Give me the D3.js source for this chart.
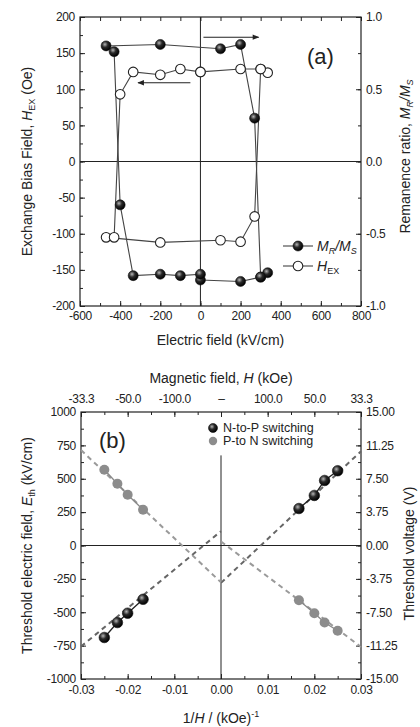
<!DOCTYPE html>
<html><head><meta charset="utf-8">
<script src="https://cdn.jsdelivr.net/npm/d3@7"></script>
<style>
body{margin:0;background:#fff}
svg{display:block}
text{font-family:"Liberation Sans",Arial,sans-serif;fill:#222}
</style>
</head><body><svg id="c" width="420" height="727"></svg>
<script>
// ---------- Panel (a) data ----------
const aField = [0, 200, 300, 335, 300, 270, 200, 100, -200, -470, -430, -400, -335, -200, -100, 0];
const aMrMs  = [-0.82, -0.83, -0.80, -0.77, -0.80, 0.30, 0.81, 0.78, 0.81, 0.80, 0.76, -0.30, -0.79, -0.78, -0.79, -0.78];
const aHex   = [124, 128, 128, 123, 128, -76, -111, -109, -112, -105, -105, 93, 124, 120, 128, 124];
const aXTicks = [-600, -400, -200, 0, 200, 400, 600, 800];
const aYTicks = [-200, -150, -100, -50, 0, 50, 100, 150, 200];
const aRTicks = [-1, -0.5, 0, 0.5, 1];
const aArrows = [{x1: 15, x2: 290, y: 172}, {x1: -50, x2: -311, y: 109}];

// ---------- Panel (b) data ----------
const bNPx = [-0.025, -0.0222, -0.02, -0.0167, 0.0167, 0.02, 0.0222, 0.025];
const bNPy = [-689, -577, -507, -403, 277, 375, 487, 560];
const bPNx = [-0.025, -0.0222, -0.02, -0.0167, 0.0167, 0.02, 0.0222, 0.025];
const bPNy = [567, 463, 380, 268, -410, -507, -577, -639];
const bFitNP = [[[-0.03, -757], [0, 107]], [[0, -280], [0.03, 706]]];
const bFitPN = [[[-0.03, 715], [0, -276]], [[0, 30], [0.03, -760]]];
const bXTicks = [-0.03, -0.02, -0.01, 0, 0.01, 0.02, 0.03];
const bTopLabels = ["-33.3", "-50.0", "-100.0", "\u2013", "100.0", "50.0", "33.3"];
const bYTicks = [-1000, -750, -500, -250, 0, 250, 500, 750, 1000];
const bRTicks = [-15, -11.25, -7.5, -3.75, 0, 3.75, 7.5, 11.25, 15];

const svg = d3.select('#c');
const defs = svg.append('defs');
const g = defs.append('radialGradient').attr('id', 'sph').attr('cx', '38%').attr('cy', '35%').attr('r', '65%');
g.append('stop').attr('offset', '0%').attr('stop-color', '#b5b5b5');
g.append('stop').attr('offset', '45%').attr('stop-color', '#2a2a2a');
g.append('stop').attr('offset', '100%').attr('stop-color', '#000');

const FS = 12;
function styleAxis(sel, labels) {
  sel.select('.domain').remove();
  sel.selectAll('.tick line').attr('stroke', '#222').attr('stroke-width', 1);
  sel.selectAll('.tick text').attr('font-size', FS).attr('fill', '#222').attr('letter-spacing', -0.3)
     .attr('font-family', '"Liberation Sans",Arial,sans-serif');
  if (!labels) sel.selectAll('.tick text').remove();
}

// ================= Panel (a) =================
const A = {l: 80, r: 361, t: 17, b: 306};
const xA = d3.scaleLinear().domain([-600, 800]).range([A.l, A.r]);
const yA = d3.scaleLinear().domain([-200, 200]).range([A.b, A.t]);
const yAR = d3.scaleLinear().domain([-1, 1]).range([A.b, A.t]);

const pa = svg.append('g');
pa.append('g').attr('transform', `translate(0,${A.b})`)
  .call(d3.axisBottom(xA).tickValues(d3.range(-600, 801, 100)).tickSize(-3).tickFormat(''))
  .call(s => styleAxis(s, false));
pa.append('g').attr('transform', `translate(0,${A.b})`)
  .call(d3.axisBottom(xA).tickValues(aXTicks).tickSize(-5).tickPadding(5).tickFormat(d => String(d)))
  .call(s => styleAxis(s, true));
pa.append('g').attr('transform', `translate(0,${A.t})`)
  .call(d3.axisTop(xA).tickValues(d3.range(-600, 801, 100)).tickSize(-4).tickFormat(''))
  .call(s => styleAxis(s, false));
pa.append('g').attr('transform', `translate(${A.l},0)`)
  .call(d3.axisLeft(yA).tickValues(d3.range(-200, 201, 25)).tickSize(-3).tickFormat(''))
  .call(s => styleAxis(s, false));
pa.append('g').attr('transform', `translate(${A.l},0)`)
  .call(d3.axisLeft(yA).tickValues(aYTicks).tickSize(-5).tickPadding(5).tickFormat(d => String(d)))
  .call(s => styleAxis(s, true));
pa.append('g').attr('transform', `translate(${A.r},0)`)
  .call(d3.axisRight(yAR).tickValues(d3.range(-1, 1.01, 0.25)).tickSize(-3).tickFormat(''))
  .call(s => styleAxis(s, false));
pa.append('g').attr('transform', `translate(${A.r},0)`)
  .call(d3.axisRight(yAR).tickValues(aRTicks).tickSize(-5).tickPadding(5).tickFormat(d => d.toFixed(1)))
  .call(s => styleAxis(s, true));

pa.append('rect').attr('x', A.l).attr('y', A.t).attr('width', A.r - A.l).attr('height', A.b - A.t)
  .attr('fill', 'none').attr('stroke', '#222').attr('stroke-width', 1.2);
pa.append('line').attr('x1', xA(0)).attr('x2', xA(0)).attr('y1', A.t).attr('y2', A.b).attr('stroke', '#222');
pa.append('line').attr('x1', A.l).attr('x2', A.r).attr('y1', yA(0)).attr('y2', yA(0)).attr('stroke', '#222');

const lineM = d3.line().x((d, i) => xA(aField[i])).y(d => yAR(d));
const lineH = d3.line().x((d, i) => xA(aField[i])).y(d => yA(d));
pa.append('path').attr('d', lineH(aHex)).attr('fill', 'none').attr('stroke', '#444').attr('stroke-width', 1.1);
pa.append('path').attr('d', lineM(aMrMs)).attr('fill', 'none').attr('stroke', '#444').attr('stroke-width', 1.1);
pa.selectAll('.ph').data(aHex).join('circle')
  .attr('cx', (d, i) => xA(aField[i])).attr('cy', d => yA(d)).attr('r', 4.8)
  .attr('fill', '#fff').attr('stroke', '#222').attr('stroke-width', 1.1);
pa.selectAll('.pm').data(aMrMs).join('circle')
  .attr('cx', (d, i) => xA(aField[i])).attr('cy', d => yAR(d)).attr('r', 5)
  .attr('fill', 'url(#sph)').attr('stroke', '#111').attr('stroke-width', 0.6);

// arrows
const mk = defs.append('marker').attr('id', 'ah').attr('viewBox', '0 0 10 10').attr('refX', 9).attr('refY', 5)
  .attr('markerWidth', 7).attr('markerHeight', 6).attr('orient', 'auto-start-reverse');
mk.append('path').attr('d', 'M0,1 L10,5 L0,9 z').attr('fill', '#222');
aArrows.forEach(a => {
  pa.append('line').attr('x1', xA(a.x1)).attr('x2', xA(a.x2)).attr('y1', yA(a.y)).attr('y2', yA(a.y))
    .attr('stroke', '#222').attr('stroke-width', 1.1).attr('marker-end', 'url(#ah)');
});
pa.append('text').attr('x', 307).attr('y', 64).attr('font-size', 22).text('(a)');

// legend (a)
const lgA = pa.append('g');
[[246, 'M'], [266, 'H']].forEach(([yy, k]) => {
  lgA.append('line').attr('x1', 283).attr('x2', 313).attr('y1', yy).attr('y2', yy).attr('stroke', '#444').attr('stroke-width', 1.1);
  if (k === 'M') lgA.append('circle').attr('cx', 298).attr('cy', yy).attr('r', 5).attr('fill', 'url(#sph)').attr('stroke', '#111').attr('stroke-width', 0.6);
  else lgA.append('circle').attr('cx', 298).attr('cy', yy).attr('r', 4.8).attr('fill', '#fff').attr('stroke', '#222').attr('stroke-width', 1.1);
});
const tM = lgA.append('text').attr('x', 317).attr('y', 251).attr('font-size', 14);
tM.append('tspan').attr('font-style', 'italic').text('M');
tM.append('tspan').attr('font-style', 'italic').attr('font-size', 9).attr('dy', 3).text('R');
tM.append('tspan').attr('font-style', 'italic').attr('dy', -3).text('/M');
tM.append('tspan').attr('font-style', 'italic').attr('font-size', 9).attr('dy', 3).text('S');
const tH = lgA.append('text').attr('x', 317).attr('y', 271).attr('font-size', 14);
tH.append('tspan').attr('font-style', 'italic').text('H');
tH.append('tspan').attr('font-size', 9).attr('dy', 3).text('EX');

// titles (a)
pa.append('text').attr('x', (A.l + A.r) / 2).attr('y', 345).attr('text-anchor', 'middle').attr('font-size', 14).text('Electric field (kV/cm)');
const ylA = pa.append('text').attr('transform', `translate(32,${(A.t + A.b) / 2}) rotate(-90)`).attr('text-anchor', 'middle').attr('font-size', 14);
ylA.append('tspan').text('Exchange Bias Field, ');
ylA.append('tspan').attr('font-style', 'italic').text('H');
ylA.append('tspan').attr('font-size', 9).attr('dy', 3).text('EX');
ylA.append('tspan').attr('dy', -3).text(' (Oe)');
const yrA = pa.append('text').attr('transform', `translate(410,${(A.t + A.b) / 2 - 5}) rotate(-90)`).attr('text-anchor', 'middle').attr('font-size', 14);
yrA.append('tspan').text('Remanence ratio, ');
yrA.append('tspan').attr('font-style', 'italic').text('M');
yrA.append('tspan').attr('font-style', 'italic').attr('font-size', 9).attr('dy', 3).text('R');
yrA.append('tspan').attr('font-style', 'italic').attr('dy', -3).text('/M');
yrA.append('tspan').attr('font-style', 'italic').attr('font-size', 9).attr('dy', 3).text('S');

// ================= Panel (b) =================
const B = {l: 81, r: 361, t: 412, b: 679};
const xB = d3.scaleLinear().domain([-0.03, 0.03]).range([B.l, B.r]);
const yB = d3.scaleLinear().domain([-1000, 1000]).range([B.b, B.t]);
const yBR = d3.scaleLinear().domain([-15, 15]).range([B.b, B.t]);
const pb = svg.append('g');

pb.append('g').attr('transform', `translate(0,${B.b})`)
  .call(d3.axisBottom(xB).tickValues(d3.range(-0.03, 0.0301, 0.005)).tickSize(-3).tickFormat(''))
  .call(s => styleAxis(s, false));
pb.append('g').attr('transform', `translate(0,${B.b})`)
  .call(d3.axisBottom(xB).tickValues(bXTicks).tickSize(-5).tickPadding(6).tickFormat(d => d.toFixed(2)))
  .call(s => styleAxis(s, true));
pb.append('g').attr('transform', `translate(0,${B.t})`)
  .call(d3.axisTop(xB).tickValues(d3.range(-0.03, 0.0301, 0.005)).tickSize(-3).tickFormat(''))
  .call(s => styleAxis(s, false));
pb.append('g').attr('transform', `translate(0,${B.t})`)
  .call(d3.axisTop(xB).tickValues(bXTicks).tickSize(-5).tickPadding(9).tickFormat((d, i) => bTopLabels[i]))
  .call(s => styleAxis(s, true));
pb.append('g').attr('transform', `translate(${B.l},0)`)
  .call(d3.axisLeft(yB).tickValues(d3.range(-1000, 1001, 125)).tickSize(-3).tickFormat(''))
  .call(s => styleAxis(s, false));
pb.append('g').attr('transform', `translate(${B.l},0)`)
  .call(d3.axisLeft(yB).tickValues(bYTicks).tickSize(-5).tickPadding(5).tickFormat(d => String(d)))
  .call(s => styleAxis(s, true));
pb.append('g').attr('transform', `translate(${B.r},0)`)
  .call(d3.axisRight(yBR).tickValues(d3.range(-15, 15.01, 1.875)).tickSize(-3).tickFormat(''))
  .call(s => styleAxis(s, false));
pb.append('g').attr('transform', `translate(${B.r},0)`)
  .call(d3.axisRight(yBR).tickValues(bRTicks).tickSize(-5).tickPadding(5).tickFormat(d => d.toFixed(2)))
  .call(s => styleAxis(s, true));

pb.append('rect').attr('x', B.l).attr('y', B.t).attr('width', B.r - B.l).attr('height', B.b - B.t)
  .attr('fill', 'none').attr('stroke', '#222').attr('stroke-width', 1.2);
pb.append('line').attr('x1', xB(0)).attr('x2', xB(0)).attr('y1', yB(750) + 10).attr('y2', B.b).attr('stroke', '#222');
pb.append('line').attr('x1', B.l).attr('x2', B.r).attr('y1', yB(0)).attr('y2', yB(0)).attr('stroke', '#222');

const lnB = d3.line().x(d => xB(d[0])).y(d => yB(d[1]));
bFitNP.forEach(seg => pb.append('path').attr('d', lnB(seg)).attr('fill', 'none').attr('stroke', '#666')
  .attr('stroke-width', 2).attr('stroke-dasharray', '5,4'));
bFitPN.forEach(seg => pb.append('path').attr('d', lnB(seg)).attr('fill', 'none').attr('stroke', '#9a9a9a')
  .attr('stroke-width', 2).attr('stroke-dasharray', '5,4'));

const npPts = bNPx.map((x, i) => [x, bNPy[i]]);
const pnPts = bPNx.map((x, i) => [x, bPNy[i]]);
[npPts.slice(0, 4), npPts.slice(4)].forEach(s => pb.append('path').attr('d', lnB(s)).attr('fill', 'none').attr('stroke', '#222').attr('stroke-width', 1.3));
[pnPts.slice(0, 4), pnPts.slice(4)].forEach(s => pb.append('path').attr('d', lnB(s)).attr('fill', 'none').attr('stroke', '#888').attr('stroke-width', 1.3));
pb.selectAll('.pn').data(pnPts).join('circle').attr('cx', d => xB(d[0])).attr('cy', d => yB(d[1])).attr('r', 5)
  .attr('fill', '#8c8c8c');
pb.selectAll('.np').data(npPts).join('circle').attr('cx', d => xB(d[0])).attr('cy', d => yB(d[1])).attr('r', 5.3)
  .attr('fill', 'url(#sph)').attr('stroke', '#111').attr('stroke-width', 0.6);

pb.append('text').attr('x', 99).attr('y', 448).attr('font-size', 22).text('(b)');
pb.append('circle').attr('cx', 213).attr('cy', 428).attr('r', 4.5).attr('fill', 'url(#sph)').attr('stroke', '#111').attr('stroke-width', 0.6);
pb.append('circle').attr('cx', 213).attr('cy', 441).attr('r', 4.2).attr('fill', '#8c8c8c');
pb.append('text').attr('x', 223).attr('y', 432).attr('font-size', 12.5).text('N-to-P switching');
pb.append('text').attr('x', 223).attr('y', 445).attr('font-size', 12.5).text('P-to N switching');

// titles (b)
const ttB = pb.append('text').attr('x', (B.l + B.r) / 2).attr('y', 383).attr('text-anchor', 'middle').attr('font-size', 14);
ttB.append('tspan').text('Magnetic field, ');
ttB.append('tspan').attr('font-style', 'italic').text('H');
ttB.append('tspan').text(' (kOe)');
const xtB = pb.append('text').attr('x', (B.l + B.r) / 2).attr('y', 723).attr('text-anchor', 'middle').attr('font-size', 14);
xtB.append('tspan').text('1/');
xtB.append('tspan').attr('font-style', 'italic').text('H');
xtB.append('tspan').text(' / (kOe)');
xtB.append('tspan').attr('font-size', 9).attr('dy', -6).text('-1');
const ylB = pb.append('text').attr('transform', `translate(32,${(B.t + B.b) / 2}) rotate(-90)`).attr('text-anchor', 'middle').attr('font-size', 14);
ylB.append('tspan').text('Threshold electric field, ');
ylB.append('tspan').attr('font-style', 'italic').text('E');
ylB.append('tspan').attr('font-size', 9).attr('dy', 3).text('th');
ylB.append('tspan').attr('dy', -3).text(' (kV/cm)');
pb.append('text').attr('transform', `translate(414,${(B.t + B.b) / 2 + 8}) rotate(-90)`).attr('text-anchor', 'middle')
  .attr('font-size', 14).text('Threshold voltage (V)');
</script></body></html>
